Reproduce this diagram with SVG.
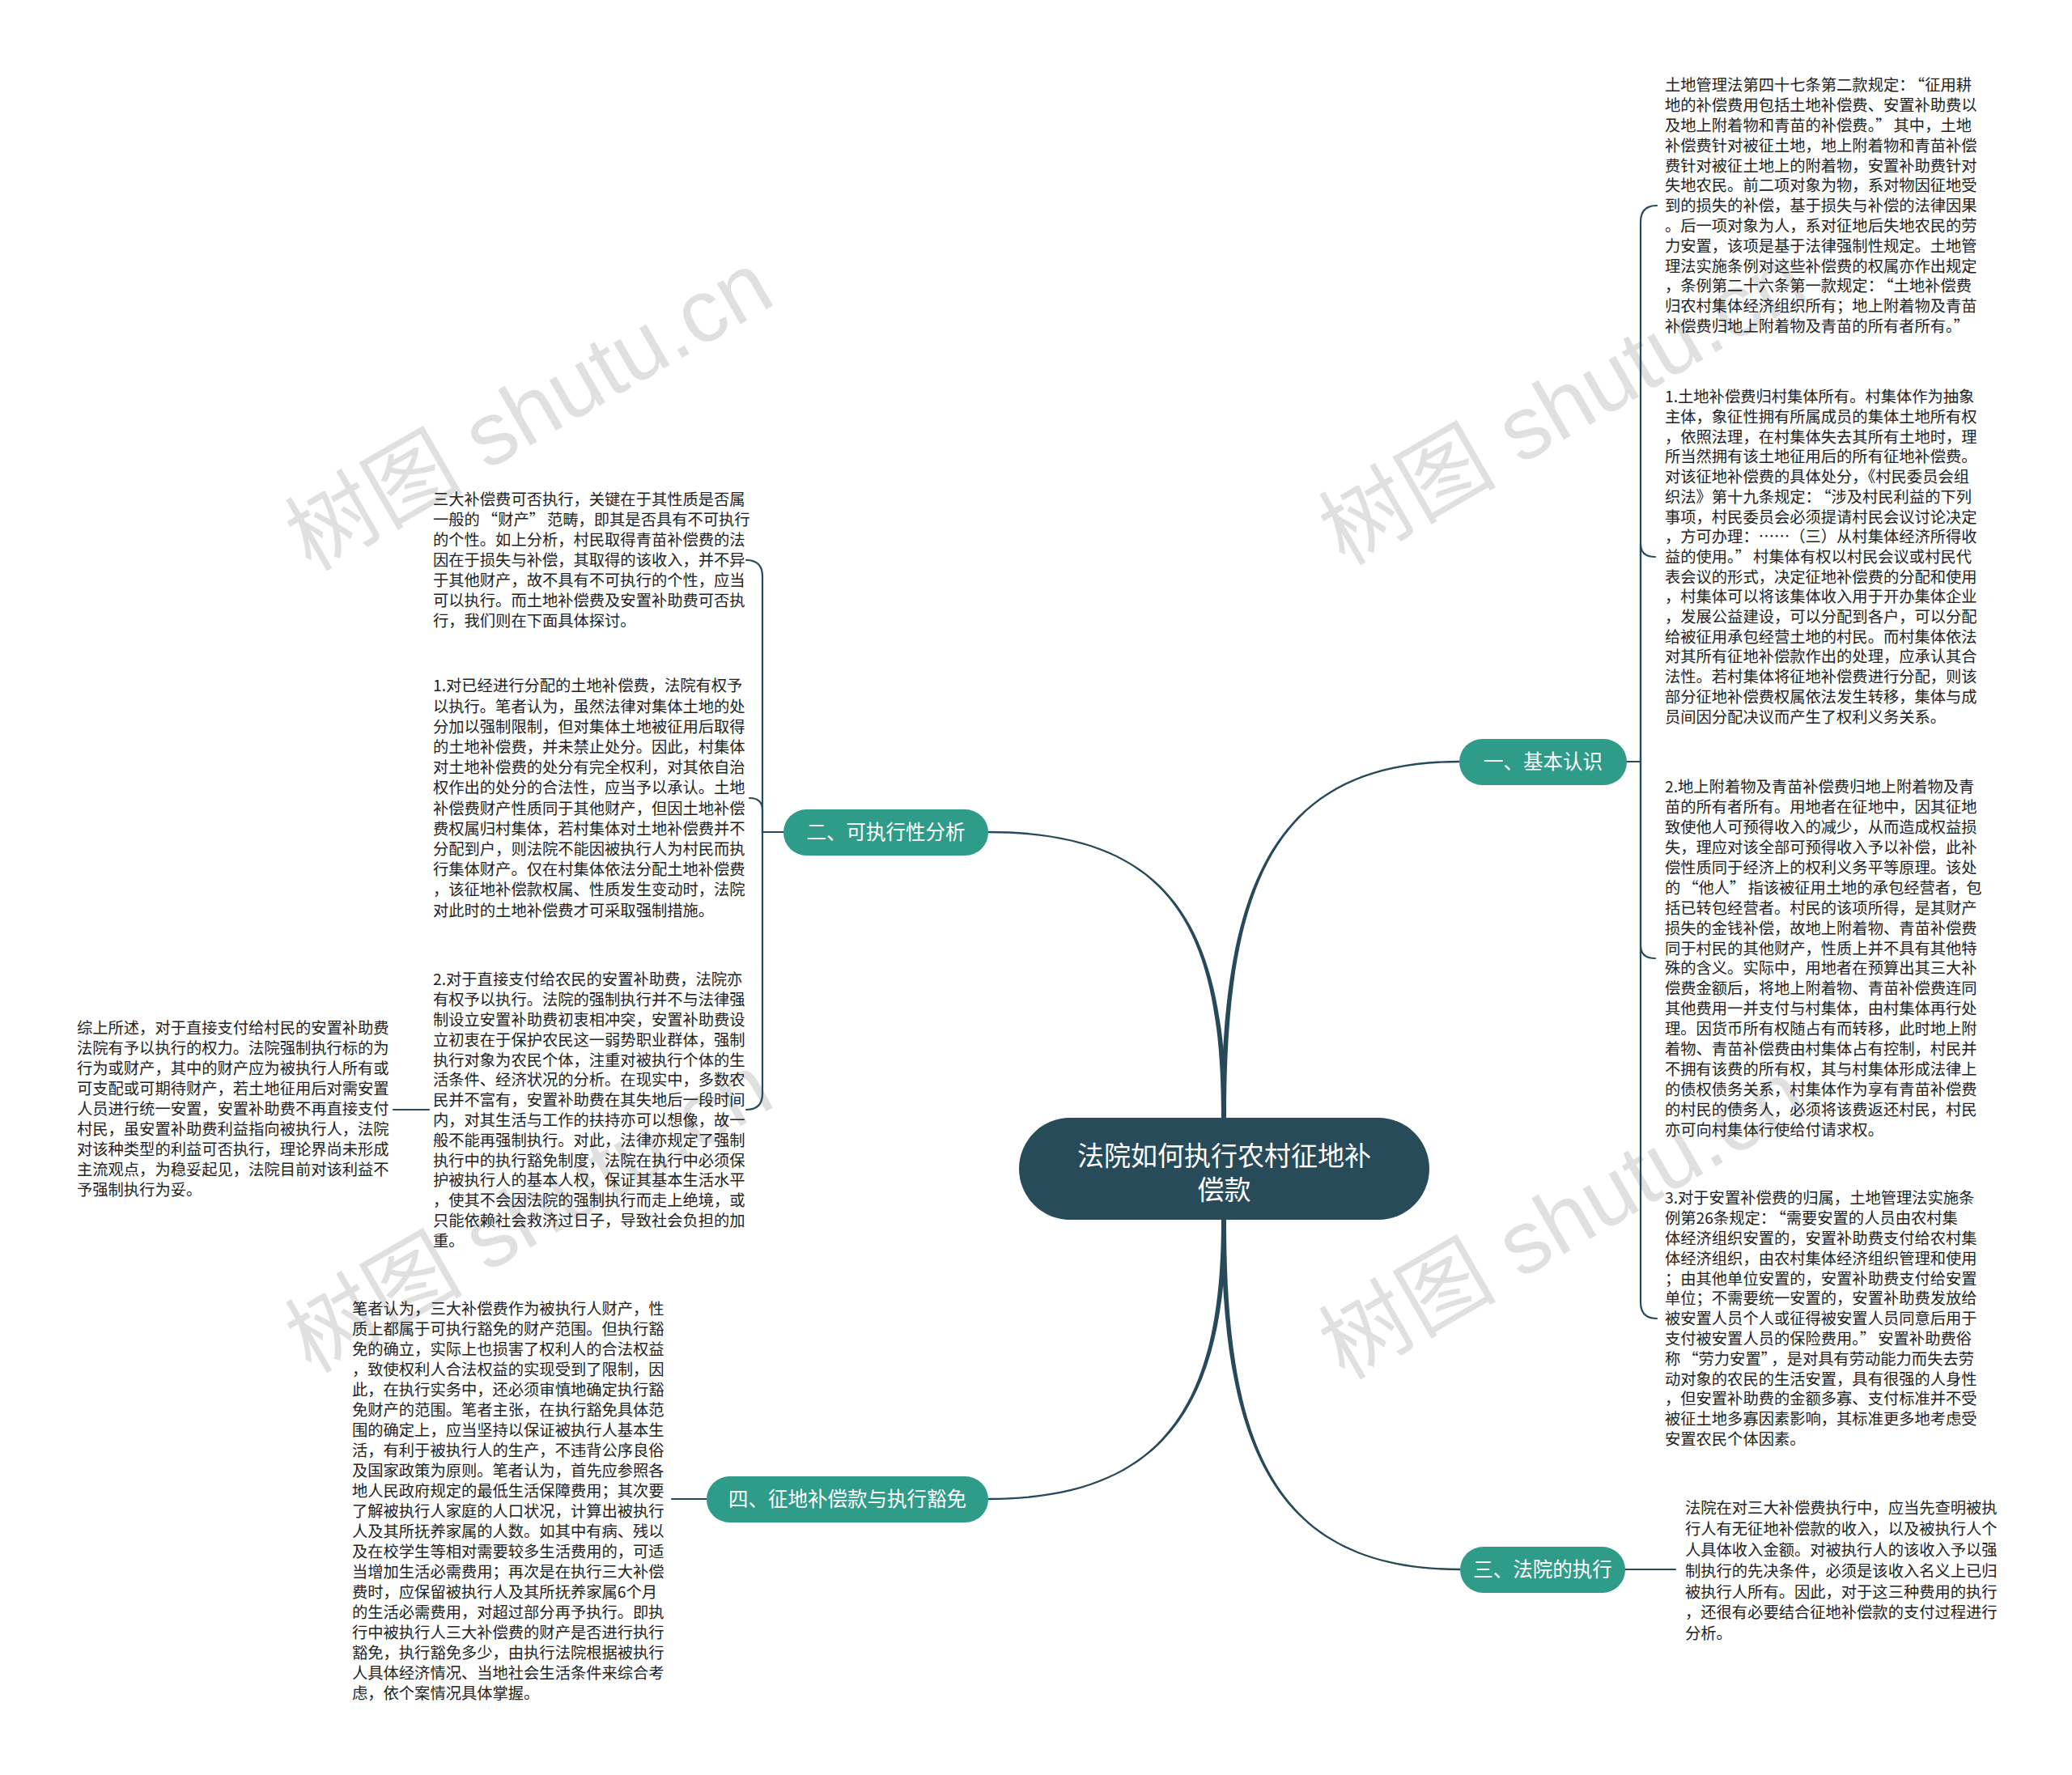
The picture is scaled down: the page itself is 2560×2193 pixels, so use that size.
<svg xmlns="http://www.w3.org/2000/svg" width="2560" height="2193" viewBox="0 0 2560 2193">
<style>
.t{font-family:"Noto Sans CJK SC","Liberation Sans",sans-serif;font-size:19.3px;fill:#222}
.b{font-family:"Noto Sans CJK SC","Liberation Sans",sans-serif;font-size:24.5px;fill:#fff;text-anchor:middle}
.c{font-family:"Noto Sans CJK SC","Liberation Sans",sans-serif;font-size:33px;fill:#fff;text-anchor:middle}
.wm{font-family:"Liberation Sans","Noto Sans CJK SC",sans-serif;font-size:110px;fill:#000;fill-opacity:0.12}
.br{fill:#2f9b89}
.ln{fill:none;stroke:#27495a;stroke-width:2.2;stroke-linecap:round}
.main{fill:#27495a;stroke:none}
</style>
<rect width="2560" height="2193" fill="#fff"/>
<g id="watermarks">
<text class="wm" transform="translate(384,707) rotate(-30)">树图 shutu.cn</text>
<text class="wm" transform="translate(1661,700) rotate(-30)">树图 shutu.cn</text>
<text class="wm" transform="translate(384,1698) rotate(-30)">树图 shutu.cn</text>
<text class="wm" transform="translate(1661,1706) rotate(-30)">树图 shutu.cn</text>
</g>
<g id="connectors">
<path class="main" d="M1509,1381 C1509,1100 1570,939.8 1803,939.8 L1803,942.2 C1570,942.2 1515,1100 1515,1381 Z"/>
<path class="main" d="M1515,1381 C1515,1150 1450,1026.8 1221,1026.8 L1221,1029.2 C1450,1029.2 1509,1150 1509,1381 Z"/>
<path class="main" d="M1509,1507 C1509,1720 1450,1850.8 1221,1850.8 L1221,1853.2 C1450,1853.2 1515,1720 1515,1507 Z"/>
<path class="main" d="M1515,1507 C1515,1780 1570,1937.8 1804,1937.8 L1804,1940.2 C1570,1940.2 1509,1780 1509,1507 Z"/>
<path class="ln" d="M2010,941 L2027,941 L2027,274 Q2027,254 2047,254"/>
<path class="ln" d="M2027,941 L2027,672 Q2027,688 2045,688"/>
<path class="ln" d="M2027,941 L2027,1168 Q2027,1184 2045,1184"/>
<path class="ln" d="M2027,941 L2027,1609 Q2027,1629 2047,1629"/>
<path class="ln" d="M968,1028 L942,1028 L942,712 Q942,692 922,692"/>
<path class="ln" d="M942,1028 L942,1001 Q942,986 926,986"/>
<path class="ln" d="M942,1028 L942,1351 Q942,1371 922,1371"/>
<path class="ln" d="M530,1371 L486,1371"/>
<path class="ln" d="M873,1852 L830,1852"/>
<path class="ln" d="M2008,1939 L2070,1939"/>
</g>
<g id="center">
<rect x="1259" y="1381" width="507" height="126" rx="63" fill="#274b59"/>
<text class="c" x="1512.5" y="1439.5"><tspan x="1512.5">法院如何执行农村征地补</tspan><tspan x="1512.5" dy="42">偿款</tspan></text>
</g>
<g id="b1">
<rect class="br" x="1803" y="913" width="207" height="57" rx="28.5"/>
<text class="b" x="1906.5" y="950">一、基本认识</text>
</g>
<g id="b2">
<rect class="br" x="968" y="1000" width="253" height="57" rx="28.5"/>
<text class="b" x="1094.5" y="1037">二、可执行性分析</text>
</g>
<g id="b3">
<rect class="br" x="1804" y="1911" width="204" height="57" rx="28.5"/>
<text class="b" x="1906" y="1948">三、法院的执行</text>
</g>
<g id="b4">
<rect class="br" x="873" y="1824" width="348" height="57" rx="28.5"/>
<text class="b" x="1047" y="1861">四、征地补偿款与执行豁免</text>
</g>
<g id="r1">
<text class="t" x="2057" y="112.3"><tspan x="2057">土地管理法第四十七条第二款规定：<tspan dx="3">“</tspan>征用耕</tspan><tspan x="2057" dy="24.8">地的补偿费用包括土地补偿费、安置补助费以</tspan><tspan x="2057" dy="24.8">及地上附着物和青苗的补偿费。”<tspan dx="3">其中，土地</tspan></tspan><tspan x="2057" dy="24.8">补偿费针对被征土地，地上附着物和青苗补偿</tspan><tspan x="2057" dy="24.8">费针对被征土地上的附着物，安置补助费针对</tspan><tspan x="2057" dy="24.8">失地农民。前二项对象为物，系对物因征地受</tspan><tspan x="2057" dy="24.8">到的损失的补偿，基于损失与补偿的法律因果</tspan><tspan x="2057" dy="24.8">。后一项对象为人，系对征地后失地农民的劳</tspan><tspan x="2057" dy="24.8">力安置，该项是基于法律强制性规定。土地管</tspan><tspan x="2057" dy="24.8">理法实施条例对这些补偿费的权属亦作出规定</tspan><tspan x="2057" dy="24.8">，条例第二十六条第一款规定：<tspan dx="3">“</tspan>土地补偿费</tspan><tspan x="2057" dy="24.8">归农村集体经济组织所有；地上附着物及青苗</tspan><tspan x="2057" dy="24.8">补偿费归地上附着物及青苗的所有者所有。”</tspan></text>
</g>
<g id="r2">
<text class="t" x="2057" y="497.3"><tspan x="2057">1.土地补偿费归村集体所有。村集体作为抽象</tspan><tspan x="2057" dy="24.7">主体，象征性拥有所属成员的集体土地所有权</tspan><tspan x="2057" dy="24.7">，依照法理，在村集体失去其所有土地时，理</tspan><tspan x="2057" dy="24.7">所当然拥有该土地征用后的所有征地补偿费。</tspan><tspan x="2057" dy="24.7">对该征地补偿费的具体处分，《村民委员会组</tspan><tspan x="2057" dy="24.7">织法》第十九条规定：<tspan dx="3">“</tspan>涉及村民利益的下列</tspan><tspan x="2057" dy="24.7">事项，村民委员会必须提请村民会议讨论决定</tspan><tspan x="2057" dy="24.7">，方可办理：……（三）从村集体经济所得收</tspan><tspan x="2057" dy="24.7">益的使用。”<tspan dx="3">村集体有权以村民会议或村民代</tspan></tspan><tspan x="2057" dy="24.7">表会议的形式，决定征地补偿费的分配和使用</tspan><tspan x="2057" dy="24.7">，村集体可以将该集体收入用于开办集体企业</tspan><tspan x="2057" dy="24.7">，发展公益建设，可以分配到各户，可以分配</tspan><tspan x="2057" dy="24.7">给被征用承包经营土地的村民。而村集体依法</tspan><tspan x="2057" dy="24.7">对其所有征地补偿款作出的处理，应承认其合</tspan><tspan x="2057" dy="24.7">法性。若村集体将征地补偿费进行分配，则该</tspan><tspan x="2057" dy="24.7">部分征地补偿费权属依法发生转移，集体与成</tspan><tspan x="2057" dy="24.7">员间因分配决议而产生了权利义务关系。</tspan></text>
</g>
<g id="r3">
<text class="t" x="2057" y="979.3"><tspan x="2057">2.地上附着物及青苗补偿费归地上附着物及青</tspan><tspan x="2057" dy="24.9">苗的所有者所有。用地者在征地中，因其征地</tspan><tspan x="2057" dy="24.9">致使他人可预得收入的减少，从而造成权益损</tspan><tspan x="2057" dy="24.9">失，理应对该全部可预得收入予以补偿，此补</tspan><tspan x="2057" dy="24.9">偿性质同于经济上的权利义务平等原理。该处</tspan><tspan x="2057" dy="24.9">的<tspan dx="3">“</tspan>他人”<tspan dx="3">指该被征用土地的承包经营者，包</tspan></tspan><tspan x="2057" dy="24.9">括已转包经营者。村民的该项所得，是其财产</tspan><tspan x="2057" dy="24.9">损失的金钱补偿，故地上附着物、青苗补偿费</tspan><tspan x="2057" dy="24.9">同于村民的其他财产，性质上并不具有其他特</tspan><tspan x="2057" dy="24.9">殊的含义。实际中，用地者在预算出其三大补</tspan><tspan x="2057" dy="24.9">偿费金额后，将地上附着物、青苗补偿费连同</tspan><tspan x="2057" dy="24.9">其他费用一并支付与村集体，由村集体再行处</tspan><tspan x="2057" dy="24.9">理。因货币所有权随占有而转移，此时地上附</tspan><tspan x="2057" dy="24.9">着物、青苗补偿费由村集体占有控制，村民并</tspan><tspan x="2057" dy="24.9">不拥有该费的所有权，其与村集体形成法律上</tspan><tspan x="2057" dy="24.9">的债权债务关系，村集体作为享有青苗补偿费</tspan><tspan x="2057" dy="24.9">的村民的债务人，必须将该费返还村民，村民</tspan><tspan x="2057" dy="24.9">亦可向村集体行使给付请求权。</tspan></text>
</g>
<g id="r4">
<text class="t" x="2057" y="1487.3"><tspan x="2057">3.对于安置补偿费的归属，土地管理法实施条</tspan><tspan x="2057" dy="24.8">例第26条规定：<tspan dx="3">“</tspan>需要安置的人员由农村集</tspan><tspan x="2057" dy="24.8">体经济组织安置的，安置补助费支付给农村集</tspan><tspan x="2057" dy="24.8">体经济组织，由农村集体经济组织管理和使用</tspan><tspan x="2057" dy="24.8">；由其他单位安置的，安置补助费支付给安置</tspan><tspan x="2057" dy="24.8">单位；不需要统一安置的，安置补助费发放给</tspan><tspan x="2057" dy="24.8">被安置人员个人或征得被安置人员同意后用于</tspan><tspan x="2057" dy="24.8">支付被安置人员的保险费用。”<tspan dx="3">安置补助费俗</tspan></tspan><tspan x="2057" dy="24.8">称<tspan dx="3">“</tspan>劳力安置”<tspan dx="3">，是对具有劳动能力而失去劳</tspan></tspan><tspan x="2057" dy="24.8">动对象的农民的生活安置，具有很强的人身性</tspan><tspan x="2057" dy="24.8">，但安置补助费的金额多寡、支付标准并不受</tspan><tspan x="2057" dy="24.8">被征土地多寡因素影响，其标准更多地考虑受</tspan><tspan x="2057" dy="24.8">安置农民个体因素。</tspan></text>
</g>
<g id="r5">
<text class="t" x="2082" y="1870.3"><tspan x="2082">法院在对三大补偿费执行中，应当先查明被执</tspan><tspan x="2082" dy="25.8">行人有无征地补偿款的收入，以及被执行人个</tspan><tspan x="2082" dy="25.8">人具体收入金额。对被执行人的该收入予以强</tspan><tspan x="2082" dy="25.8">制执行的先决条件，必须是该收入名义上已归</tspan><tspan x="2082" dy="25.8">被执行人所有。因此，对于这三种费用的执行</tspan><tspan x="2082" dy="25.8">，还很有必要结合征地补偿款的支付过程进行</tspan><tspan x="2082" dy="25.8">分析。</tspan></text>
</g>
<g id="l1">
<text class="t" x="535" y="624.3"><tspan x="535">三大补偿费可否执行，关键在于其性质是否属</tspan><tspan x="535" dy="25">一般的<tspan dx="3">“</tspan>财产”<tspan dx="3">范畴，即其是否具有不可执行</tspan></tspan><tspan x="535" dy="25">的个性。如上分析，村民取得青苗补偿费的法</tspan><tspan x="535" dy="25">因在于损失与补偿，其取得的该收入，并不异</tspan><tspan x="535" dy="25">于其他财产，故不具有不可执行的个性，应当</tspan><tspan x="535" dy="25">可以执行。而土地补偿费及安置补助费可否执</tspan><tspan x="535" dy="25">行，我们则在下面具体探讨。</tspan></text>
</g>
<g id="l2">
<text class="t" x="535" y="854.3"><tspan x="535">1.对已经进行分配的土地补偿费，法院有权予</tspan><tspan x="535" dy="25.2">以执行。笔者认为，虽然法律对集体土地的处</tspan><tspan x="535" dy="25.2">分加以强制限制，但对集体土地被征用后取得</tspan><tspan x="535" dy="25.2">的土地补偿费，并未禁止处分。因此，村集体</tspan><tspan x="535" dy="25.2">对土地补偿费的处分有完全权利，对其依自治</tspan><tspan x="535" dy="25.2">权作出的处分的合法性，应当予以承认。土地</tspan><tspan x="535" dy="25.2">补偿费财产性质同于其他财产，但因土地补偿</tspan><tspan x="535" dy="25.2">费权属归村集体，若村集体对土地补偿费并不</tspan><tspan x="535" dy="25.2">分配到户，则法院不能因被执行人为村民而执</tspan><tspan x="535" dy="25.2">行集体财产。仅在村集体依法分配土地补偿费</tspan><tspan x="535" dy="25.2">，该征地补偿款权属、性质发生变动时，法院</tspan><tspan x="535" dy="25.2">对此时的土地补偿费才可采取强制措施。</tspan></text>
</g>
<g id="l3">
<text class="t" x="535" y="1217.3"><tspan x="535">2.对于直接支付给农民的安置补助费，法院亦</tspan><tspan x="535" dy="24.8">有权予以执行。法院的强制执行并不与法律强</tspan><tspan x="535" dy="24.8">制设立安置补助费初衷相冲突，安置补助费设</tspan><tspan x="535" dy="24.8">立初衷在于保护农民这一弱势职业群体，强制</tspan><tspan x="535" dy="24.8">执行对象为农民个体，注重对被执行个体的生</tspan><tspan x="535" dy="24.8">活条件、经济状况的分析。在现实中，多数农</tspan><tspan x="535" dy="24.8">民并不富有，安置补助费在其失地后一段时间</tspan><tspan x="535" dy="24.8">内，对其生活与工作的扶持亦可以想像，故一</tspan><tspan x="535" dy="24.8">般不能再强制执行。对此，法律亦规定了强制</tspan><tspan x="535" dy="24.8">执行中的执行豁免制度，法院在执行中必须保</tspan><tspan x="535" dy="24.8">护被执行人的基本人权，保证其基本生活水平</tspan><tspan x="535" dy="24.8">，使其不会因法院的强制执行而走上绝境，或</tspan><tspan x="535" dy="24.8">只能依赖社会救济过日子，导致社会负担的加</tspan><tspan x="535" dy="24.8">重。</tspan></text>
</g>
<g id="l4">
<text class="t" x="95" y="1277.3"><tspan x="95">综上所述，对于直接支付给村民的安置补助费</tspan><tspan x="95" dy="25">法院有予以执行的权力。法院强制执行标的为</tspan><tspan x="95" dy="25">行为或财产，其中的财产应为被执行人所有或</tspan><tspan x="95" dy="25">可支配或可期待财产，若土地征用后对需安置</tspan><tspan x="95" dy="25">人员进行统一安置，安置补助费不再直接支付</tspan><tspan x="95" dy="25">村民，虽安置补助费利益指向被执行人，法院</tspan><tspan x="95" dy="25">对该种类型的利益可否执行，理论界尚未形成</tspan><tspan x="95" dy="25">主流观点，为稳妥起见，法院目前对该利益不</tspan><tspan x="95" dy="25">予强制执行为妥。</tspan></text>
</g>
<g id="l5">
<text class="t" x="435" y="1624.3"><tspan x="435">笔者认为，三大补偿费作为被执行人财产，性</tspan><tspan x="435" dy="25">质上都属于可执行豁免的财产范围。但执行豁</tspan><tspan x="435" dy="25">免的确立，实际上也损害了权利人的合法权益</tspan><tspan x="435" dy="25">，致使权利人合法权益的实现受到了限制，因</tspan><tspan x="435" dy="25">此，在执行实务中，还必须审慎地确定执行豁</tspan><tspan x="435" dy="25">免财产的范围。笔者主张，在执行豁免具体范</tspan><tspan x="435" dy="25">围的确定上，应当坚持以保证被执行人基本生</tspan><tspan x="435" dy="25">活，有利于被执行人的生产，不违背公序良俗</tspan><tspan x="435" dy="25">及国家政策为原则。笔者认为，首先应参照各</tspan><tspan x="435" dy="25">地人民政府规定的最低生活保障费用；其次要</tspan><tspan x="435" dy="25">了解被执行人家庭的人口状况，计算出被执行</tspan><tspan x="435" dy="25">人及其所抚养家属的人数。如其中有病、残以</tspan><tspan x="435" dy="25">及在校学生等相对需要较多生活费用的，可适</tspan><tspan x="435" dy="25">当增加生活必需费用；再次是在执行三大补偿</tspan><tspan x="435" dy="25">费时，应保留被执行人及其所抚养家属6个月</tspan><tspan x="435" dy="25">的生活必需费用，对超过部分再予执行。即执</tspan><tspan x="435" dy="25">行中被执行人三大补偿费的财产是否进行执行</tspan><tspan x="435" dy="25">豁免，执行豁免多少，由执行法院根据被执行</tspan><tspan x="435" dy="25">人具体经济情况、当地社会生活条件来综合考</tspan><tspan x="435" dy="25">虑，依个案情况具体掌握。</tspan></text>
</g>
</svg>
